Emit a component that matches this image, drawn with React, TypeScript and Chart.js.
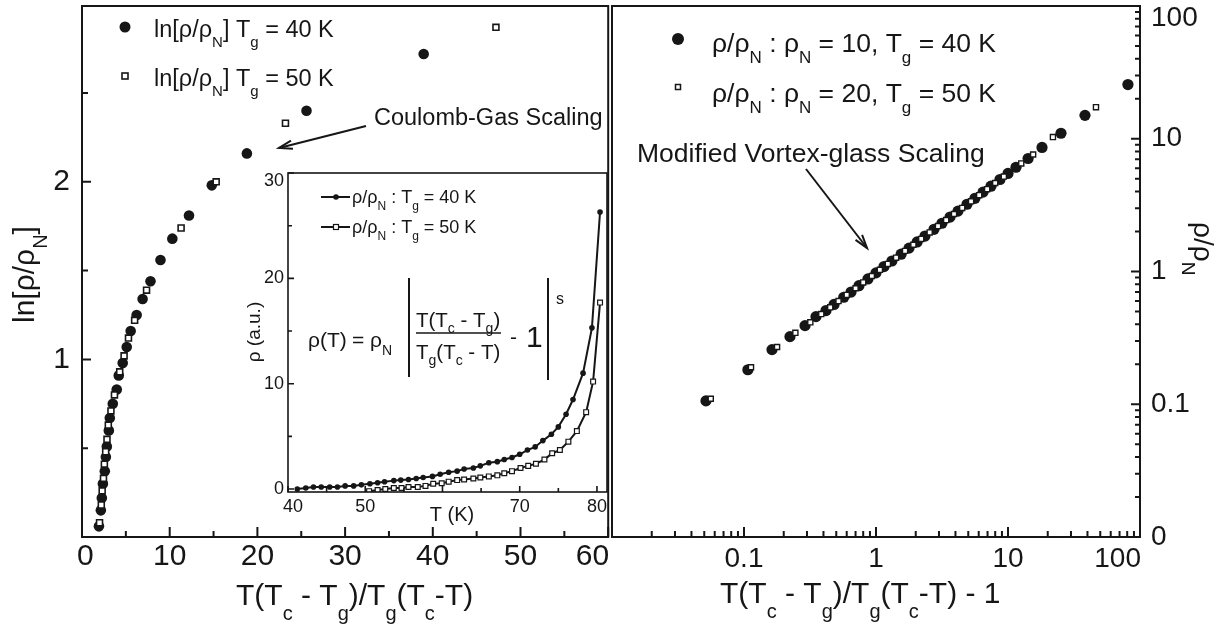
import React, { useEffect, useRef } from 'react';
import { Chart, registerables } from 'chart.js';

Chart.register(...registerables);

const FONT = '"Liberation Sans", Arial, Helvetica, sans-serif';
const INK = '#161616';

// ---------- Left panel: ln[rho/rhoN] vs T(Tc-Tg)/Tg(Tc-T) ----------
const leftX40 = [1.93, 2.15, 2.26, 2.38, 2.6, 2.72, 2.83, 3.06, 3.17, 3.51, 3.96, 4.19, 4.64, 5.1, 5.55, 6.23, 6.91, 7.81, 8.95, 10.3, 12.2, 14.8, 18.8, 25.6, 38.96];
const leftY40 = [0.06, 0.15, 0.22, 0.3, 0.37, 0.45, 0.51, 0.6, 0.67, 0.75, 0.83, 0.91, 0.98, 1.07, 1.16, 1.25, 1.34, 1.44, 1.56, 1.68, 1.81, 1.98, 2.16, 2.4, 2.72];
const leftX50 = [2.0, 2.2, 2.3, 2.45, 2.55, 2.7, 2.85, 3.0, 3.3, 3.7, 4.3, 4.8, 5.3, 6.0, 7.36, 11.3, 15.3, 23.2, 47.2];
const leftY50 = [0.08, 0.18, 0.26, 0.33, 0.41, 0.48, 0.55, 0.63, 0.71, 0.8, 0.93, 1.02, 1.12, 1.22, 1.39, 1.74, 2.0, 2.33, 2.87];
const leftXTicks = [0, 10, 20, 30, 40, 50, 60];
const leftXMinor = [5, 15, 25, 35, 45, 55];
const leftYTicks = [1, 2];
const leftYMinor = [0.5, 1.5, 2.5];

// ---------- Right panel: rho/rhoN vs T(Tc-Tg)/Tg(Tc-T) - 1 (log-log) ----------
const rightX40 = [0.0515, 0.107, 0.163, 0.223, 0.29, 0.351, 0.418, 0.481, 0.57, 0.647, 0.743, 0.869, 1.0, 1.15, 1.32, 1.55, 1.78, 2.05, 2.35, 2.75, 3.16, 3.64, 4.18, 4.89, 5.62, 6.47, 7.43, 8.69, 10.0, 11.5, 14.2, 18.1, 25.2, 38.3, 81];
const rightY40 = [0.106, 0.182, 0.258, 0.323, 0.391, 0.457, 0.508, 0.565, 0.64, 0.7, 0.782, 0.879, 0.977, 1.09, 1.2, 1.35, 1.5, 1.67, 1.85, 2.08, 2.31, 2.57, 2.85, 3.21, 3.56, 3.96, 4.39, 4.93, 5.48, 6.1, 7.1, 8.6, 11.0, 15.0, 25.6];
const rightX50 = [0.056, 0.113, 0.178, 0.245, 0.318, 0.385, 0.45, 0.52, 0.6, 0.7, 0.8, 0.93, 1.07, 1.23, 1.42, 1.66, 1.92, 2.2, 2.55, 2.95, 3.4, 3.9, 4.5, 5.25, 6.05, 6.95, 8.0, 9.3, 12.6, 15.5, 21.9, 46.4];
const rightY50 = [0.11, 0.19, 0.27, 0.345, 0.414, 0.478, 0.537, 0.599, 0.666, 0.748, 0.827, 0.925, 1.03, 1.14, 1.27, 1.43, 1.59, 1.76, 1.97, 2.2, 2.44, 2.71, 3.01, 3.38, 3.76, 4.17, 4.64, 5.19, 6.52, 7.61, 10.3, 17.3];
const logTicks = [0.01, 0.1, 1, 10, 100];
const logXLabels = ['', '0.1', '1', '10', '100'];
const logYLabels = ['0', '0.1', '1', '10', '100'];

// ---------- Inset: rho (a.u.) vs T (K) ----------
const insetT40 = [41.2, 42.3, 43.3, 44.3, 45.4, 46.4, 47.4, 48.5, 49.5, 50.6, 51.6, 52.5, 53.7, 54.6, 55.6, 56.6, 57.5, 58.7, 59.7, 60.8, 61.9, 62.8, 64.0, 64.9, 66.0, 67.1, 68.0, 69.0, 70.0, 71.0, 72.0, 73.0, 74.1, 75.0, 76.0, 76.9, 78.2, 79.35, 80.4];
const insetR40 = [0.0, 0.1, 0.2, 0.2, 0.2, 0.2, 0.3, 0.3, 0.4, 0.5, 0.6, 0.7, 0.8, 0.85, 0.9, 1.0, 1.1, 1.2, 1.4, 1.6, 1.7, 1.9, 2.0, 2.2, 2.5, 2.6, 2.8, 3.0, 3.3, 3.7, 4.0, 4.6, 5.2, 5.9, 7.1, 8.5, 11.0, 15.3, 26.3];
const insetT50 = [50.5, 51.6, 52.6, 53.7, 54.7, 55.6, 56.8, 57.8, 58.8, 59.9, 60.8, 61.9, 62.8, 64.0, 64.9, 66.0, 67.1, 68.0, 69.0, 70.1, 71.1, 72.1, 73.2, 74.2, 75.2, 76.3, 77.4, 78.6, 79.5, 80.4];
const insetR50 = [-0.2, -0.1, 0.0, 0.1, 0.1, 0.2, 0.2, 0.3, 0.5, 0.55, 0.7, 0.85, 0.9, 1.0, 1.1, 1.2, 1.3, 1.5, 1.7, 2.0, 2.2, 2.4, 2.8, 3.4, 3.7, 4.5, 5.5, 7.3, 10.2, 17.7];
const insetXTicks = [40, 50, 60, 70, 80];
const insetXLabels = ['40', '50', '', '70', '80'];
const insetXMinor = [45, 55, 65, 75];
const insetYTicks = [0, 10, 20, 30];
const insetYMinor = [5, 15, 25];

const pts = (xs: number[], ys: number[]) => xs.map((x, i) => ({ x, y: ys[i] }));

// ---------- rich text helpers ----------
type Seg = { t: string; k: 'n' | 'sub' | 'sup' };
function parseRich(s: string): Seg[] {
  const out: Seg[] = [];
  let buf = '';
  let i = 0;
  while (i < s.length) {
    const c = s[i];
    if ((c === '_' || c === '^') && s[i + 1] === '{') {
      if (buf) { out.push({ t: buf, k: 'n' }); buf = ''; }
      const j = s.indexOf('}', i + 2);
      out.push({ t: s.slice(i + 2, j), k: c === '_' ? 'sub' : 'sup' });
      i = j + 1;
    } else { buf += c; i++; }
  }
  if (buf) out.push({ t: buf, k: 'n' });
  return out;
}

function drawRich(ctx: CanvasRenderingContext2D, s: string, x: number, y: number, size: number,
  o: { sub?: number; shift?: number; align?: 'left' | 'center' } = {}) {
  const subSize = o.sub ?? Math.round(size * 0.67);
  const shift = o.shift ?? size * 0.47;
  const parts = parseRich(s);
  const fN = `${size}px ${FONT}`;
  const fS = `${subSize}px ${FONT}`;
  let w = 0;
  for (const p of parts) { ctx.font = p.k === 'n' ? fN : fS; w += ctx.measureText(p.t).width; }
  let cx = o.align === 'center' ? x - w / 2 : x;
  ctx.textAlign = 'left';
  ctx.textBaseline = 'alphabetic';
  ctx.fillStyle = INK;
  for (const p of parts) {
    ctx.font = p.k === 'n' ? fN : fS;
    const dy = p.k === 'sub' ? shift : p.k === 'sup' ? -size * 0.55 : 0;
    ctx.fillText(p.t, cx, y + dy);
    cx += ctx.measureText(p.t).width;
  }
  return w;
}

function drawRotated(ctx: CanvasRenderingContext2D, s: string, x: number, y: number, angle: number, size: number,
  o: { sub?: number; shift?: number; align?: 'left' | 'center' } = {}) {
  ctx.save();
  ctx.translate(x, y);
  ctx.rotate(angle);
  drawRich(ctx, s, 0, 0, size, o);
  ctx.restore();
}

function arrow(ctx: CanvasRenderingContext2D, x1: number, y1: number, x2: number, y2: number, head = 13, ang = 0.3) {
  ctx.beginPath();
  ctx.moveTo(x1, y1);
  ctx.lineTo(x2, y2);
  ctx.stroke();
  const t = Math.atan2(y2 - y1, x2 - x1);
  ctx.beginPath();
  ctx.moveTo(x2 - head * Math.cos(t - ang), y2 - head * Math.sin(t - ang));
  ctx.lineTo(x2, y2);
  ctx.lineTo(x2 - head * Math.cos(t + ang), y2 - head * Math.sin(t + ang));
  ctx.stroke();
}

function ticksBottom(ctx: CanvasRenderingContext2D, sc: any, a: any, vals: number[], len: number) {
  ctx.beginPath();
  for (const v of vals) { const p = sc.getPixelForValue(v); ctx.moveTo(p, a.bottom); ctx.lineTo(p, a.bottom - len); }
  ctx.stroke();
}
function ticksLeft(ctx: CanvasRenderingContext2D, sc: any, a: any, vals: number[], len: number) {
  ctx.beginPath();
  for (const v of vals) { const p = sc.getPixelForValue(v); ctx.moveTo(a.left, p); ctx.lineTo(a.left + len, p); }
  ctx.stroke();
}
function ticksRight(ctx: CanvasRenderingContext2D, sc: any, a: any, vals: number[], len: number) {
  ctx.beginPath();
  for (const v of vals) { const p = sc.getPixelForValue(v); ctx.moveTo(a.right, p); ctx.lineTo(a.right - len, p); }
  ctx.stroke();
}
function labelsX(ctx: CanvasRenderingContext2D, sc: any, a: any, vals: number[], labels: string[], y: number, size: number) {
  ctx.font = `${size}px ${FONT}`;
  ctx.textAlign = 'center';
  ctx.textBaseline = 'middle';
  ctx.fillStyle = INK;
  vals.forEach((v, i) => {
    const t = labels[i];
    if (!t) return;
    const w = ctx.measureText(t).width;
    let cx = sc.getPixelForValue(v);
    if (cx + w / 2 > a.right + 1) cx = a.right + 1 - w / 2;
    if (cx - w / 2 < a.left - 5) cx = a.left - 5 + w / 2;
    ctx.fillText(t, cx, y);
  });
}
function labelsY(ctx: CanvasRenderingContext2D, sc: any, a: any, vals: number[], labels: string[], x: number, align: CanvasTextAlign, size: number) {
  ctx.font = `${size}px ${FONT}`;
  ctx.textAlign = align;
  ctx.textBaseline = 'middle';
  ctx.fillStyle = INK;
  const half = size * 0.36;
  vals.forEach((v, i) => {
    const t = labels[i];
    if (!t) return;
    let cy = sc.getPixelForValue(v);
    if (cy - half < a.top + 2) cy = a.top + 2 + half;
    ctx.fillText(t, x, cy);
  });
}
function circleMark(ctx: CanvasRenderingContext2D, x: number, y: number, r: number) {
  ctx.beginPath(); ctx.arc(x, y, r, 0, Math.PI * 2); ctx.fillStyle = INK; ctx.fill();
}
function squareMark(ctx: CanvasRenderingContext2D, x: number, y: number, s: number, lw: number) {
  ctx.fillStyle = '#fff'; ctx.fillRect(x - s / 2, y - s / 2, s, s);
  ctx.lineWidth = lw; ctx.strokeStyle = INK; ctx.strokeRect(x - s / 2, y - s / 2, s, s);
}

const minorLog = [0.01, 0.1, 1, 10].flatMap((d) => [2, 3, 4, 5, 6, 7, 8, 9].map((k) => d * k));

// ---------- plugins ----------
const leftDecor = {
  id: 'leftDecor',
  afterDraw(chart: any) {
    const { ctx, chartArea: a } = chart;
    const x = chart.scales.x, y = chart.scales.y;
    ctx.save();
    ctx.strokeStyle = INK; ctx.lineWidth = 2; ctx.lineCap = 'butt';
    ctx.strokeRect(a.left, a.top, a.right - a.left, a.bottom - a.top);
    ticksBottom(ctx, x, a, leftXTicks, 10);
    ticksBottom(ctx, x, a, leftXMinor, 6);
    ticksLeft(ctx, y, a, leftYTicks, 9);
    ticksLeft(ctx, y, a, leftYMinor, 6);
    labelsX(ctx, x, a, leftXTicks, leftXTicks.map(String), 557, 30);
    labelsY(ctx, y, a, leftYTicks, leftYTicks.map(String), 70, 'right', 30);
    drawRich(ctx, 'T(T_{c} - T_{g})/T_{g}(T_{c}-T)', 236, 605, 30, { sub: 20, shift: 15 });
    drawRotated(ctx, 'ln[ρ/ρ_{N}]', 34, 323, -Math.PI / 2, 30, { sub: 20, shift: 13 });
    // legend
    circleMark(ctx, 125, 27, 5.5);
    drawRich(ctx, 'ln[ρ/ρ_{N}] T_{g} = 40 K', 154, 37, 23.5, { sub: 15, shift: 10 });
    squareMark(ctx, 125, 76, 6, 1.6);
    drawRich(ctx, 'ln[ρ/ρ_{N}] T_{g} = 50 K', 154, 86, 23.5, { sub: 15, shift: 10 });
    // annotation
    drawRich(ctx, 'Coulomb-Gas Scaling', 374, 125, 23.5);
    ctx.strokeStyle = INK; ctx.lineWidth = 2;
    arrow(ctx, 366, 126, 279, 148, 14, 0.3);
    ctx.restore();
  },
};

const rightDecor = {
  id: 'rightDecor',
  afterDraw(chart: any) {
    const { ctx, chartArea: a } = chart;
    const x = chart.scales.x, y = chart.scales.y;
    const ox = 600;
    ctx.save();
    ctx.strokeStyle = INK; ctx.lineWidth = 2; ctx.lineCap = 'butt';
    ctx.strokeRect(a.left, a.top, a.right - a.left, a.bottom - a.top);
    ticksBottom(ctx, x, a, logTicks, 10);
    ticksBottom(ctx, x, a, minorLog, 6);
    ticksRight(ctx, y, a, logTicks, 9);
    ticksRight(ctx, y, a, minorLog, 5);
    labelsX(ctx, x, a, logTicks, logXLabels, 559, 28);
    labelsY(ctx, y, a, logTicks, logYLabels, 1151 - ox, 'left', 28);
    drawRich(ctx, 'T(T_{c} - T_{g})/T_{g}(T_{c}-T) - 1', 720 - ox, 603, 30, { sub: 20, shift: 15 });
    drawRotated(ctx, 'ρ/ρ_{N}', 1194 - ox, 222, Math.PI / 2, 28, { sub: 19, shift: 12 });
    // legend
    circleMark(ctx, 678 - ox, 39, 6);
    drawRich(ctx, 'ρ/ρ_{N} : ρ_{N} = 10, T_{g} = 40 K', 712 - ox, 52, 26.5, { sub: 17, shift: 11 });
    squareMark(ctx, 678 - ox, 87, 5, 1.5);
    drawRich(ctx, 'ρ/ρ_{N} : ρ_{N} = 20, T_{g} = 50 K', 712 - ox, 102, 26.5, { sub: 17, shift: 11 });
    drawRich(ctx, 'Modified Vortex-glass Scaling', 637 - ox, 162, 26.5);
    ctx.strokeStyle = INK; ctx.lineWidth = 2;
    arrow(ctx, 806 - ox, 169, 867 - ox, 248, 14, 0.3);
    ctx.restore();
  },
};

const insetDecor = {
  id: 'insetDecor',
  afterDraw(chart: any) {
    const { ctx, chartArea: a } = chart;
    const x = chart.scales.x, y = chart.scales.y;
    const ox = 230, oy = 160;
    ctx.save();
    ctx.strokeStyle = INK; ctx.lineWidth = 1.6; ctx.lineCap = 'butt';
    ctx.strokeRect(a.left, a.top, a.right - a.left, a.bottom - a.top);
    ticksBottom(ctx, x, a, insetXTicks, 6);
    ticksBottom(ctx, x, a, insetXMinor, 4);
    ticksLeft(ctx, y, a, insetYTicks, 6);
    ticksLeft(ctx, y, a, insetYMinor, 4);
    labelsX(ctx, x, a, insetXTicks, insetXLabels, 507 - oy, 18);
    labelsY(ctx, y, a, insetYTicks, insetYTicks.map(String), 284 - ox, 'right', 18);
    drawRich(ctx, 'T (K)', 452 - ox, 521 - oy, 20, { align: 'center' });
    drawRotated(ctx, 'ρ (a.u.)', 260 - ox, 332 - oy, -Math.PI / 2, 19, { align: 'center' });
    // legend
    ctx.strokeStyle = INK; ctx.lineWidth = 2;
    ctx.beginPath(); ctx.moveTo(321 - ox, 197 - oy); ctx.lineTo(350 - ox, 197 - oy); ctx.stroke();
    circleMark(ctx, 336 - ox, 197 - oy, 2.8);
    drawRich(ctx, 'ρ/ρ_{N} : T_{g} = 40 K', 352 - ox, 203 - oy, 18, { sub: 12, shift: 7 });
    ctx.beginPath(); ctx.moveTo(321 - ox, 227 - oy); ctx.lineTo(350 - ox, 227 - oy); ctx.stroke();
    squareMark(ctx, 336 - ox, 227 - oy, 5, 1.2);
    drawRich(ctx, 'ρ/ρ_{N} : T_{g} = 50 K', 352 - ox, 233 - oy, 18, { sub: 12, shift: 7 });
    // formula
    drawRich(ctx, 'ρ(T)', 308 - ox, 347 - oy, 21);
    drawRich(ctx, '= ρ_{N}', 352 - ox, 347 - oy, 21, { sub: 14, shift: 8 });
    ctx.lineWidth = 2;
    ctx.beginPath();
    ctx.moveTo(409 - ox, 278 - oy); ctx.lineTo(409 - ox, 377 - oy);
    ctx.moveTo(548 - ox, 278 - oy); ctx.lineTo(548 - ox, 380 - oy);
    ctx.stroke();
    drawRich(ctx, 'T(T_{c} - T_{g})', 416 - ox, 327 - oy, 20.5, { sub: 14, shift: 6 });
    ctx.lineWidth = 1.5;
    ctx.beginPath(); ctx.moveTo(416 - ox, 333 - oy); ctx.lineTo(501 - ox, 333 - oy); ctx.stroke();
    drawRich(ctx, 'T_{g}(T_{c} - T)', 416 - ox, 359 - oy, 20.5, { sub: 14, shift: 6 });
    drawRich(ctx, '-', 510 - ox, 344 - oy, 21);
    drawRich(ctx, '1', 526 - ox, 347 - oy, 30);
    drawRich(ctx, 's', 556 - ox, 304 - oy, 16);
    ctx.restore();
  },
};

const baseOptions = (padding: any, scales: any) => ({
  responsive: false,
  animation: false,
  events: [],
  layout: { padding },
  plugins: { legend: { display: false }, tooltip: { enabled: false } },
  scales,
});

export default function App() {
  const leftRef = useRef<HTMLCanvasElement>(null);
  const rightRef = useRef<HTMLCanvasElement>(null);
  const insetRef = useRef<HTMLCanvasElement>(null);

  useEffect(() => {
    const left = new Chart(leftRef.current as HTMLCanvasElement, {
      type: 'scatter',
      data: {
        datasets: [
          { label: 'ln[ρ/ρN] Tg = 50 K', data: pts(leftX50, leftY50), order: 0, pointStyle: 'rect', pointRadius: 4.2,
            pointBackgroundColor: '#fff', pointBorderColor: INK, pointBorderWidth: 1.6 },
          { label: 'ln[ρ/ρN] Tg = 40 K', data: pts(leftX40, leftY40), order: 1, pointStyle: 'circle', pointRadius: 5.3,
            pointBackgroundColor: INK, pointBorderColor: INK, pointBorderWidth: 0 },
        ],
      },
      options: baseOptions({ left: 82, top: 6, right: 2, bottom: 87 }, {
        x: { type: 'linear', min: 0, max: 60, display: false },
        y: { type: 'linear', min: 0, max: 2.99, display: false },
      }) as any,
      plugins: [leftDecor],
    } as any);

    const right = new Chart(rightRef.current as HTMLCanvasElement, {
      type: 'scatter',
      data: {
        datasets: [
          { label: 'ρ/ρN : ρN = 20, Tg = 50 K', data: pts(rightX50, rightY50), order: 0, pointStyle: 'rect', pointRadius: 3.6,
            pointBackgroundColor: '#fff', pointBorderColor: INK, pointBorderWidth: 1.4 },
          { label: 'ρ/ρN : ρN = 10, Tg = 40 K', data: pts(rightX40, rightY40), order: 1, pointStyle: 'circle', pointRadius: 5.6,
            pointBackgroundColor: INK, pointBorderColor: INK, pointBorderWidth: 0 },
        ],
      },
      options: baseOptions({ left: 12, top: 6, right: 89, bottom: 87 }, {
        x: { type: 'logarithmic', min: 0.01, max: 100, display: false },
        y: { type: 'logarithmic', min: 0.01, max: 100, display: false },
      }) as any,
      plugins: [rightDecor],
    } as any);

    const inset = new Chart(insetRef.current as HTMLCanvasElement, {
      type: 'scatter',
      data: {
        datasets: [
          { label: 'ρ/ρN : Tg = 40 K', data: pts(insetT40, insetR40), showLine: true, borderColor: INK, borderWidth: 2,
            pointStyle: 'circle', pointRadius: 2.8, pointBackgroundColor: INK, pointBorderColor: INK, pointBorderWidth: 0 },
          { label: 'ρ/ρN : Tg = 50 K', data: pts(insetT50, insetR50), showLine: true, borderColor: INK, borderWidth: 2,
            pointStyle: 'rect', pointRadius: 3.4, pointBackgroundColor: '#fff', pointBorderColor: INK, pointBorderWidth: 1.2 },
        ],
      },
      options: baseOptions({ left: 58, top: 13, right: 13, bottom: 48 }, {
        x: { type: 'linear', min: 40, max: 81.3, display: false },
        y: { type: 'linear', min: -0.28, max: 30, display: false },
      }) as any,
      plugins: [insetDecor],
    } as any);

    return () => { left.destroy(); right.destroy(); inset.destroy(); };
  }, []);

  const abs = (l: number, t: number, w: number, h: number) => ({ position: 'absolute' as const, left: l, top: t, width: w, height: h });

  return (
    <div style={{ position: 'fixed', left: 0, top: 0, width: 1229, height: 624, background: '#fff', overflow: 'hidden' }}>
      <canvas ref={leftRef} width={614} height={624} style={abs(0, 0, 614, 624)} />
      <canvas ref={rightRef} width={629} height={624} style={abs(600, 0, 629, 624)} />
      <canvas ref={insetRef} width={390} height={380} style={abs(230, 160, 390, 380)} />
    </div>
  );
}
